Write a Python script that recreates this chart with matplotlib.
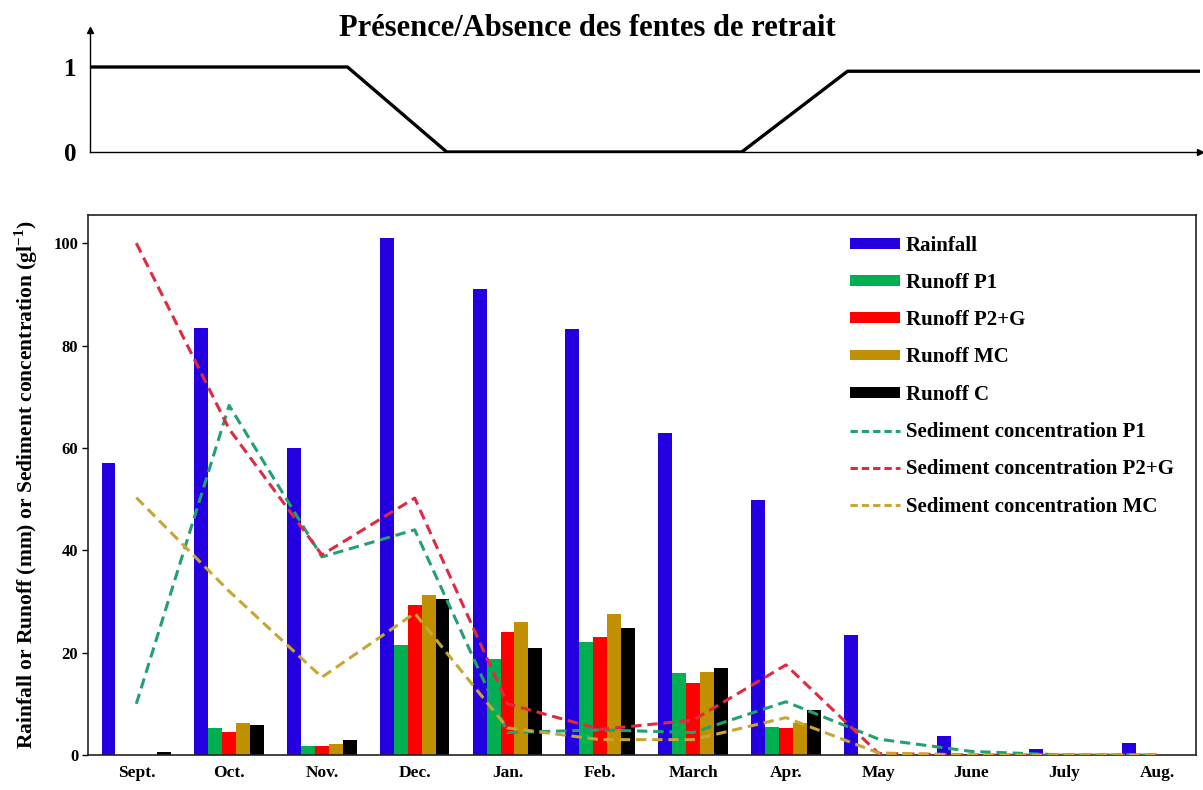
import matplotlib
matplotlib.use("Agg")
import matplotlib.pyplot as plt
import numpy as np
from matplotlib.patches import Patch
from matplotlib.lines import Line2D

plt.rcParams['font.family'] = ['Liberation Serif', 'DejaVu Serif']
plt.rcParams['font.weight'] = 'bold'
plt.rcParams['mathtext.fontset'] = 'custom'
plt.rcParams['mathtext.rm'] = 'Liberation Serif'
plt.rcParams['mathtext.bf'] = 'Liberation Serif:bold'

months = ["Sept.", "Oct.", "Nov.", "Dec.", "Jan.", "Feb.", "March", "Apr.", "May", "June", "July", "Aug."]
rainfall = [57, 83.5, 60, 101, 91, 83.3, 63, 49.8, 23.5, 3.8, 1.2, 2.3]
runoff_p1 = [0, 5.3, 1.8, 21.5, 18.8, 22, 16, 5.5, 0, 0, 0, 0]
runoff_p2g = [0, 4.5, 1.8, 29.3, 24, 23, 14, 5.3, 0, 0, 0, 0]
runoff_mc = [0, 6.3, 2.2, 31.2, 26, 27.5, 16.2, 6.3, 0, 0, 0, 0]
runoff_c = [0.6, 5.8, 3.0, 30.5, 20.9, 24.8, 17, 8.8, 0, 0, 0, 0]
sed_p1 = [10, 68.3, 38.7, 44, 4.4, 4.9, 4.4, 10.4, 3.1, 0.7, 0, 0]
sed_p2g = [100, 63.7, 39.1, 50.2, 10, 5, 6.8, 17.6, 0.3, 0, 0, 0]
sed_mc = [50.3, 32, 15.2, 27.7, 5.3, 3, 3, 7.3, 0.4, 0, 0, 0]

# presence / absence of shrinkage cracks (top panel), x in month units
presence_x = [-0.5, 2.28, 3.35, 6.53, 7.67, 11.5]
presence_y = [1, 1, 0, 0, 0.95, 0.95]

bar_colors = ["#2400E0", "#00B050", "#FF0000", "#C09000", "#000000"]
line_colors = ["#22A070", "#E02A40", "#C8A535"]
bar_labels = ["Rainfall", "Runoff P1", "Runoff P2+G", "Runoff MC", "Runoff C"]
line_labels = ["Sediment concentration P1", "Sediment concentration P2+G", "Sediment concentration MC"]

fig = plt.figure(figsize=(12.03, 7.90), dpi=100)

# ---------- top panel ----------
axt = fig.add_axes([0.0748, 0.8076, 0.9227, 0.1544])
axt.plot(presence_x, presence_y, color="black", lw=2.4, solid_capstyle='butt')
axt.set_xlim(-0.496, 11.47)
axt.set_ylim(0, 1.435)
for s in ["top", "right"]:
    axt.spines[s].set_visible(False)
axt.spines["left"].set_linewidth(1.0)
axt.spines["bottom"].set_linewidth(1.0)
axt.set_xticks([])
axt.set_yticks([0, 1])
axt.set_yticklabels(["0", "1"], fontsize=18, fontweight='bold')
axt.tick_params(axis='y', length=0, pad=10)
axt.plot(1, 0, ">k", transform=axt.transAxes, clip_on=False, markersize=4)
axt.plot(0, 1, "^k", transform=axt.transAxes, clip_on=False, markersize=4)
fig.text(0.488, 0.964, "Présence/Absence des fentes de retrait", ha="center", va="center",
         fontsize=22, fontweight="bold")

# ---------- main panel ----------
ax = fig.add_axes([0.0732, 0.0443, 0.9210, 0.6835])
x = np.arange(len(months))
w = 0.15
series = [rainfall, runoff_p1, runoff_p2g, runoff_mc, runoff_c]
for k, (vals, col) in enumerate(zip(series, bar_colors)):
    ax.bar(x + (k - 2) * w, vals, width=w, color=col, edgecolor='none', zorder=2)
for vals, col in zip([sed_p1, sed_p2g, sed_mc], line_colors):
    ax.plot(x, vals, color=col, lw=2.2, dashes=(3.4, 1.9), zorder=3)

ax.set_xlim(-0.52, 11.42)
ax.set_ylim(0, 105.5)
ax.set_yticks([0, 20, 40, 60, 80, 100])
ax.set_yticklabels(["0", "20", "40", "60", "80", "100"], fontsize=12, fontweight='bold')
ax.set_xticks(x)
ax.set_xticklabels(months, fontsize=12.5, fontweight='bold')
ax.tick_params(axis='x', length=0, pad=7)
ax.tick_params(axis='y', length=4, width=1, direction='out', pad=3)
for s in ax.spines.values():
    s.set_linewidth(1.2)
    s.set_color("#222222")
ax.set_ylabel(r"Rainfall or Runoff (mm) or Sediment concentration (gl$^{\mathbf{-1}}$)",
              fontsize=15.5, fontweight='bold', labelpad=10)

handles = [Patch(facecolor=c, edgecolor='none') for c in bar_colors] + \
          [Line2D([0], [0], color=c, lw=2.2, dashes=(2.4, 1.3)) for c in line_colors]
labels = bar_labels + line_labels
leg = ax.legend(handles, labels, loc="upper left", bbox_to_anchor=(0.688, 0.962),
                frameon=False, fontsize=15, handlelength=2.4, handleheight=0.42,
                handletextpad=0.25, labelspacing=0.83, borderaxespad=0, borderpad=0)
for t in leg.get_texts():
    t.set_fontweight('bold')

fig.savefig("out.png", dpi=100)
